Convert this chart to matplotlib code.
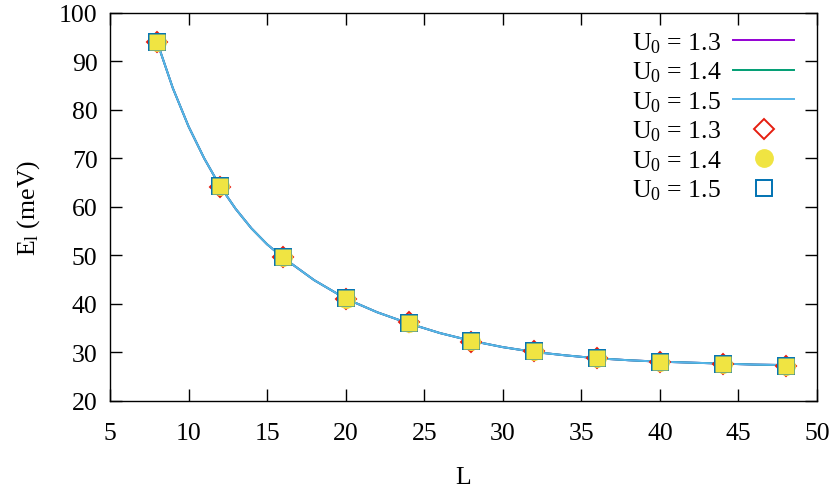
import numpy as np
import matplotlib.pyplot as plt

plt.rcParams['font.family'] = ['Liberation Serif', 'DejaVu Serif']
plt.rcParams['mathtext.fontset'] = 'custom'
plt.rcParams['mathtext.rm'] = 'Liberation Serif'
plt.rcParams['mathtext.it'] = 'Liberation Serif:italic'

# computed points
L = [8, 12, 16, 20, 24, 28, 32, 36, 40, 44, 48]
E_13 = [94.0, 64.2, 49.7, 41.1, 36.2, 32.2, 30.2, 28.9, 28.0, 27.6, 27.3]
E_14 = [94.0, 64.3, 49.6, 41.1, 36.1, 32.3, 30.2, 28.9, 28.1, 27.7, 27.3]
E_15 = [94.0, 64.3, 49.6, 41.2, 36.0, 32.4, 30.2, 28.9, 28.1, 27.7, 27.3]

# fitted curves
L_fit = [8, 9, 10, 11, 12, 13, 14, 15, 16, 18, 20, 22, 24, 26, 28, 30, 32,
         34, 36, 38, 40, 42, 44, 46, 48]
fit_13 = [94.0, 84.5, 76.6, 70.0, 64.3, 59.6, 55.6, 52.3, 49.6, 44.9, 41.1,
          38.3, 36.0, 34.0, 32.4, 31.1, 30.1, 29.4, 28.8, 28.4, 28.1, 27.9,
          27.7, 27.5, 27.4]
fit_14 = [94.0, 84.5, 76.6, 70.0, 64.3, 59.6, 55.6, 52.3, 49.6, 44.9, 41.1,
          38.3, 36.0, 34.0, 32.4, 31.1, 30.1, 29.4, 28.8, 28.4, 28.1, 27.9,
          27.7, 27.5, 27.4]
fit_15 = [94.0, 84.5, 76.6, 70.0, 64.3, 59.6, 55.6, 52.3, 49.6, 44.9, 41.1,
          38.3, 36.0, 34.0, 32.4, 31.1, 30.1, 29.4, 28.8, 28.4, 28.1, 27.9,
          27.7, 27.5, 27.4]

fig = plt.figure(figsize=(8.34, 4.89), dpi=100)
ax = fig.add_axes([0.1319, 0.178, 0.8477, 0.7934])

ax.plot(L_fit, fit_13, color='#9400d3', lw=1.4, label=r'$\mathregular{U_0}$ = 1.3')
ax.plot(L_fit, fit_14, color='#009e73', lw=1.4, label=r'$\mathregular{U_0}$ = 1.4')
ax.plot(L_fit, fit_15, color='#56b4e9', lw=1.4, label=r'$\mathregular{U_0}$ = 1.5')
ax.plot(L, E_13, 'D', ms=10.5, mfc='none', mec='#e51e10', mew=1.4, ls='none',
        label=r'$\mathregular{U_0}$ = 1.3')
ax.plot(L, E_14, 'o', ms=12.5, mfc='#f0e442', mec='#f0e442', ls='none',
        label=r'$\mathregular{U_0}$ = 1.4')
ax.plot(L, E_15, 's', ms=12, mfc='none', mec='#0072b2', mew=1.4, ls='none',
        label=r'$\mathregular{U_0}$ = 1.5')
# yellow fill inside the squares
ax.plot(L, E_15, 's', ms=11, mfc='#f0e442', mec='none', ls='none')

ax.set_xlim(5, 50)
ax.set_ylim(20, 100)
ax.set_xticks(np.arange(5, 51, 5))
ax.set_yticks(np.arange(20, 101, 10))
ax.tick_params(direction='in', length=8.5, width=1, top=True, right=True,
               labelsize=18.5)
ax.tick_params(axis='x', pad=15)
ax.tick_params(axis='y', pad=9)
for s in ax.spines.values():
    s.set_linewidth(1)

ax.set_xlabel('L', fontsize=18.5, labelpad=16)
ax.set_ylabel(r'E$_\mathregular{l}$ (meV)', fontsize=18.5, labelpad=12)

ax.legend(loc='upper right', bbox_to_anchor=(0.99, 0.995), frameon=False,
          markerfirst=False, fontsize=18.5, handlelength=2.4,
          labelspacing=0.19, handletextpad=0.45, borderaxespad=0.2)

plt.savefig('out.png', dpi=100)
